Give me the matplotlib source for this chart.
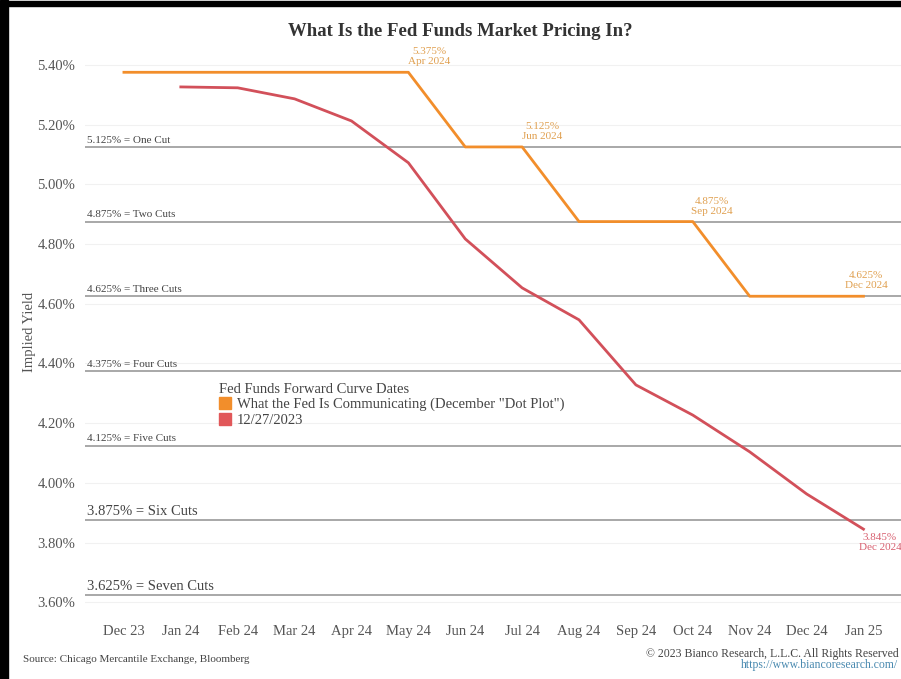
import matplotlib.pyplot as plt
from matplotlib.lines import Line2D
from matplotlib.patches import Rectangle

plt.rcParams['font.family'] = ['Liberation Serif', 'DejaVu Serif']

# month index: 0 = Dec 23 ... 13 = Jan 25
month_labels = ['Dec 23', 'Jan 24', 'Feb 24', 'Mar 24', 'Apr 24', 'May 24', 'Jun 24',
                'Jul 24', 'Aug 24', 'Sep 24', 'Oct 24', 'Nov 24', 'Dec 24', 'Jan 25']

fed_x = [0, 5, 6, 7, 8, 10, 11, 13]
fed_y = [5.375, 5.375, 5.125, 5.125, 4.875, 4.875, 4.625, 4.625]

mkt_x = [1, 2, 3, 4, 5, 6, 7, 8, 9, 10, 11, 12, 13]
mkt_y = [5.326, 5.323, 5.286, 5.212, 5.072, 4.817, 4.653, 4.546,
         4.328, 4.227, 4.104, 3.963, 3.845]

cut_levels = [5.125, 4.875, 4.625, 4.375, 4.125, 3.875, 3.625]
cut_names = ['One Cut', 'Two Cuts', 'Three Cuts', 'Four Cuts', 'Five Cuts', 'Six Cuts', 'Seven Cuts']

fed_notes = [(5, 5.375, '5.375%\nApr 2024'), (7, 5.125, '5.125%\nJun 2024'),
             (10, 4.875, '4.875%\nSep 2024'), (13, 4.625, '4.625%\nDec 2024')]
fed_note_dx = [0.37, 0.35, 0.33, 0.05]

yticks = [3.6, 3.8, 4.0, 4.2, 4.4, 4.6, 4.8, 5.0, 5.2, 5.4]

orange = '#F28E2B'
red = '#D2505A'

fig = plt.figure(figsize=(9.01, 6.79), dpi=100)
ax = fig.add_axes([0.0943, 0.087, 0.9057, 0.847])

for yv in yticks:
    ax.axhline(yv, color='#f1f1f1', lw=0.8, zorder=0)

for i, (lv, nm) in enumerate(zip(cut_levels, cut_names)):
    ax.axhline(lv, color='#9a9a9a', lw=1.2, zorder=1)
    fs = 10.5 if i >= 5 else 8
    ax.text(-0.65, lv + 0.007, '%.3f%% = %s' % (lv, nm), fontsize=fs,
            color='#444444', va='bottom', ha='left')

ax.plot(fed_x, fed_y, color=orange, lw=2, zorder=3)
ax.plot(mkt_x, mkt_y, color=red, lw=2, zorder=3)

for (x, y, t), dx in zip(fed_notes, fed_note_dx):
    ax.text(x + dx, y + 0.02, t, color='#E0A050', fontsize=8, ha='center',
            va='bottom', linespacing=1.15, clip_on=False)
ax.text(13.29, mkt_y[-1] - 0.012, '3.845%\nDec 2024', color='#D86070', fontsize=8,
        ha='center', va='top', linespacing=1.15, clip_on=False)

ax.set_xlim(-0.685, 13.66)
ax.set_ylim(3.541, 5.467)
ax.set_xticks(range(len(month_labels)))
ax.set_xticklabels(month_labels)
ax.set_yticks(yticks)
ax.set_yticklabels(['%.2f%%' % v for v in yticks])
ax.tick_params(length=0, labelsize=10.5, colors='#555555', pad=7)
ax.tick_params(axis='x', pad=4)
for s in ax.spines.values():
    s.set_visible(False)
ax.set_ylabel('Implied Yield', fontsize=10.5, color='#555555', labelpad=1)

handles = [Line2D([], [], marker='s', ls='none', color=orange, markersize=8.5),
           Line2D([], [], marker='s', ls='none', color='#E15759', markersize=8.5)]
leg = ax.legend(handles, ['What the Fed Is Communicating (December "Dot Plot")', '12/27/2023'],
                title='Fed Funds Forward Curve Dates', loc='upper left',
                bbox_to_anchor=(0.235, 0.447), bbox_transform=fig.transFigure,
                frameon=False, fontsize=10.5, title_fontsize=10.5, alignment='left',
                handlelength=0.8, handletextpad=0.4, borderpad=0, labelspacing=0.15)
for t in leg.get_texts():
    t.set_color('#444444')
leg.get_title().set_color('#444444')

fig.text(0.511, 0.953, 'What Is the Fed Funds Market Pricing In?', ha='center', va='center',
         fontsize=13.5, fontweight='bold', color='#333333')
fig.text(0.025, 0.028, 'Source: Chicago Mercantile Exchange, Bloomberg', fontsize=8,
         color='#444444', va='center')
fig.text(0.997, 0.037, '\u00a9 2023 Bianco Research, L.L.C. All Rights Reserved', fontsize=8.5,
         color='#444444', ha='right', va='center')
fig.text(0.997, 0.020, 'https://www.biancoresearch.com/', fontsize=8.5, color='#4a8ab0',
         ha='right', va='center')

# black frame at left and top
fig.patches.append(Rectangle((0, 0), 0.009, 1, transform=fig.transFigure, color='black', zorder=10))
fig.patches.append(Rectangle((0, 0.991), 1, 0.007, transform=fig.transFigure, color='black', zorder=10))

fig.savefig('out.png', dpi=100)
